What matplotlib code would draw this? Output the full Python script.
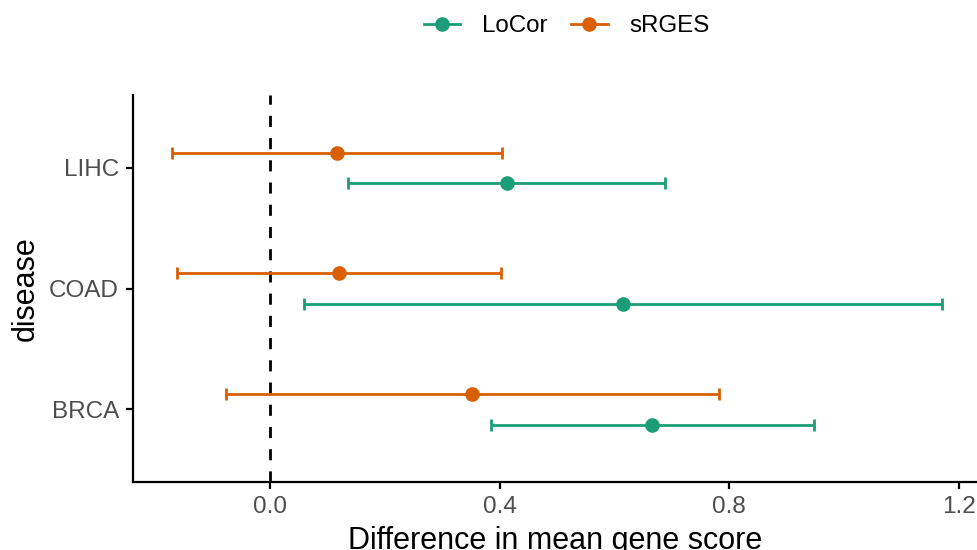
import matplotlib
matplotlib.use("Agg")
import matplotlib.pyplot as plt
from matplotlib.lines import Line2D
import numpy as np

plt.rcParams['font.family'] = ['Liberation Sans', 'DejaVu Sans']

diseases = ["BRCA", "COAD", "LIHC"]
methods = ["LoCor", "sRGES"]
colors = {"LoCor": "#1B9E77", "sRGES": "#D95F02"}

est = {"LoCor": [0.666, 0.615, 0.413], "sRGES": [0.352, 0.120, 0.117]}
low = {"LoCor": [0.385, 0.059, 0.136], "sRGES": [-0.077, -0.162, -0.171]}
high = {"LoCor": [0.948, 1.171, 0.688], "sRGES": [0.782, 0.402, 0.404]}

offsets = {"LoCor": -0.125, "sRGES": 0.125}

fig = plt.figure(figsize=(9.77, 5.5), dpi=100)
ax = fig.add_axes([0.136, 0.1236, 0.864, 0.7034])

ax.axvline(0, color="black", linestyle=(0, (4, 4)), linewidth=2, zorder=1)

ypos = np.arange(1, len(diseases) + 1)
for m in methods:
    e = np.array(est[m]); lo = np.array(low[m]); hi = np.array(high[m])
    y = ypos + offsets[m]
    ax.errorbar(e, y, xerr=[e - lo, hi - e], fmt="o", color=colors[m],
                ecolor=colors[m], elinewidth=2.0, capsize=4.3, capthick=2.0,
                markersize=9.5, zorder=3)

ax.set_xlim(-0.239, 1.232)
ax.set_ylim(0.4, 3.6)
ax.set_yticks(ypos)
ax.set_yticklabels(diseases)
ax.set_xticks([0.0, 0.4, 0.8, 1.2])
ax.set_xticklabels(["0.0", "0.4", "0.8", "1.2"])
for s in ["top", "right"]:
    ax.spines[s].set_visible(False)
for s in ["left", "bottom"]:
    ax.spines[s].set_linewidth(1.6)
ax.tick_params(axis="both", labelsize=17.5, colors="#4D4D4D", length=5, width=1.6,
               pad=5)
ax.tick_params(axis="both", color="black")
ax.set_xlabel("Difference in mean gene score", fontsize=22, labelpad=6)
ax.set_ylabel("disease", fontsize=22, labelpad=6)

handles = [Line2D([0], [0], color=colors[m], marker="o", markersize=9.5,
                  linewidth=2.0) for m in methods]
fig.legend(handles, methods, loc="center", bbox_to_anchor=(0.58, 0.952),
           ncol=2, frameon=False, fontsize=17.4, handlelength=1.5,
           columnspacing=1.0, handletextpad=0.9)

fig.savefig("out.png", dpi=100)
